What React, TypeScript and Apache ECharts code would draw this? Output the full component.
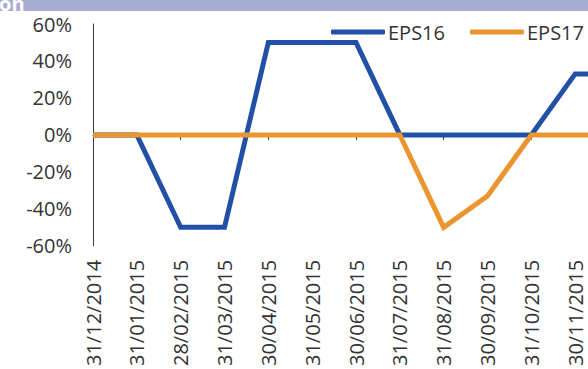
import React, { useEffect, useRef } from "react";
import * as echarts from "echarts";

// Month-end dates; the final month runs past the visible edge.
const categories = [
  "31/12/2014",
  "31/01/2015",
  "28/02/2015",
  "31/03/2015",
  "30/04/2015",
  "31/05/2015",
  "30/06/2015",
  "31/07/2015",
  "31/08/2015",
  "30/09/2015",
  "31/10/2015",
  "30/11/2015",
  "31/12/2015",
];

// EPS revisions, in percent
const eps16 = [0, 0, -50, -50, 50, 50, 50, 0, 0, 0, 0, 33, 33];
const eps17 = [0, 0, 0, 0, 0, 0, 0, 0, -50, -33, 0, 0, 0];

const yTicks = { min: -60, max: 60, interval: 20 };

const FONT = "'Open Sans', 'Noto Sans', sans-serif";
const TEXT = "#333333";
const AXIS = "#3a3a3a";
const BLUE = "#2150a6";
const ORANGE = "#eb9530";
const BAND = "#a9acd1";

const VISIBLE_W = 588;
const VISIBLE_H = 369;
const CHART_W = 640;

export default function App() {
  const ref = useRef<HTMLDivElement>(null);

  useEffect(() => {
    if (!ref.current) return;
    const chart = echarts.init(ref.current, undefined, { renderer: "svg" });
    const lastVisible = categories.length - 2;

    chart.setOption({
      animation: false,
      backgroundColor: "#ffffff",
      textStyle: { fontFamily: FONT },
      grid: { left: 93, top: 24, bottom: 123, right: 21, containLabel: false },
      legend: {
        left: 326,
        top: 17,
        itemWidth: 54,
        itemHeight: 5,
        itemGap: 25,
        icon: "roundRect",
        textStyle: { fontFamily: FONT, fontSize: 20, color: TEXT, padding: [0, 0, 0, -2] },
        data: ["EPS16", "EPS17"],
      },
      graphic: [
        {
          type: "rect",
          shape: { x: 0, y: 0, width: CHART_W, height: 11 },
          style: { fill: BAND },
          silent: true,
        },
        {
          type: "text",
          x: -1,
          y: 13,
          style: {
            text: "on",
            fill: "#ffffff",
            font: `bold 20px ${FONT}`,
            verticalAlign: "bottom",
          },
          silent: true,
          z: 10,
        },
      ],
      xAxis: [
        {
          type: "category",
          data: categories,
          boundaryGap: false,
          axisLine: { show: false, onZero: false },
          axisTick: { show: false },
          axisLabel: {
            rotate: 90,
            margin: 14,
            fontSize: 20,
            fontFamily: FONT,
            color: TEXT,
            interval: (idx: number) => idx <= lastVisible,
          },
          splitLine: { show: false },
        },
        {
          type: "category",
          data: categories,
          boundaryGap: false,
          position: "bottom",
          axisLine: { show: true, onZero: true, lineStyle: { color: AXIS, width: 1 } },
          axisTick: { show: true, length: 5, lineStyle: { color: AXIS, width: 1 } },
          axisLabel: { show: false },
          splitLine: { show: false },
        },
      ],
      yAxis: {
        type: "value",
        min: yTicks.min,
        max: yTicks.max,
        interval: yTicks.interval,
        axisLine: { show: true, lineStyle: { color: AXIS, width: 1 } },
        axisTick: { show: false },
        splitLine: { show: false },
        axisLabel: {
          formatter: "{value}%",
          fontSize: 20,
          fontFamily: FONT,
          color: TEXT,
          margin: 21,
        },
      },
      series: [
        {
          name: "EPS16",
          type: "line",
          xAxisIndex: 0,
          data: eps16,
          symbol: "none",
          color: BLUE,
          lineStyle: { color: BLUE, width: 5, join: "miter" },
          z: 2,
        },
        {
          name: "EPS17",
          type: "line",
          xAxisIndex: 0,
          data: eps17,
          symbol: "none",
          color: ORANGE,
          lineStyle: { color: ORANGE, width: 5, join: "miter" },
          z: 3,
        },
      ],
    });

    return () => chart.dispose();
  }, []);

  return (
    <div
      style={{
        position: "fixed",
        left: 0,
        top: 0,
        width: VISIBLE_W,
        height: VISIBLE_H,
        overflow: "hidden",
        background: "#ffffff",
      }}
    >
      <div ref={ref} style={{ width: CHART_W, height: VISIBLE_H }} />
    </div>
  );
}
